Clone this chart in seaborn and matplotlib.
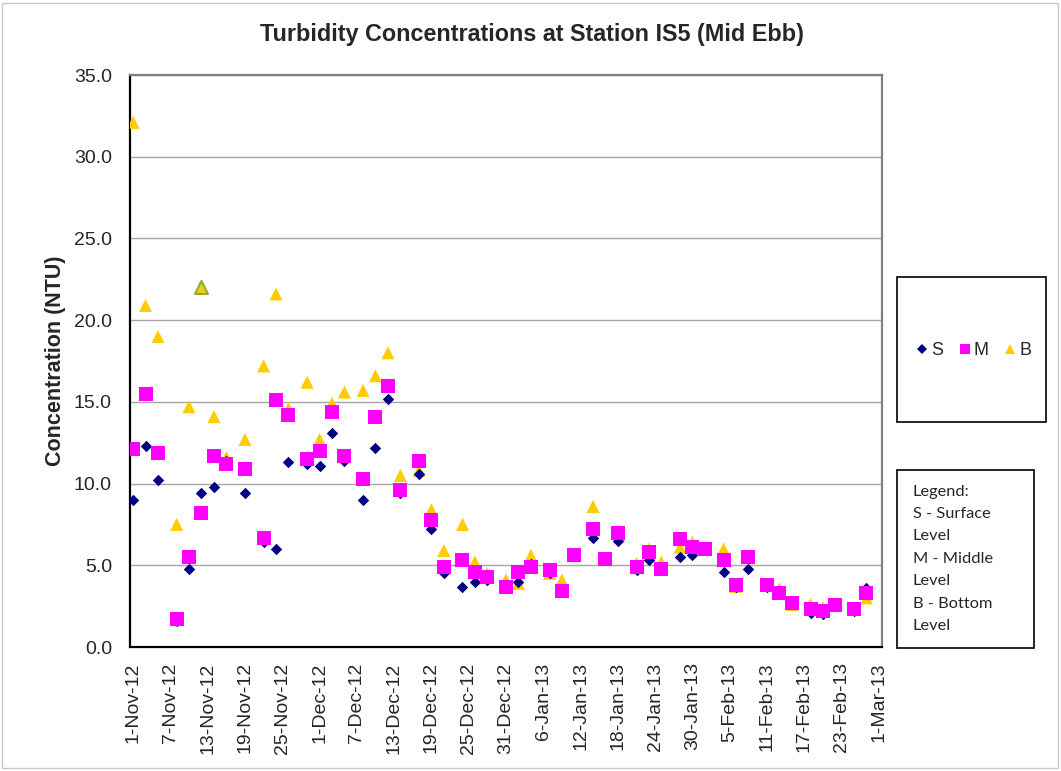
import matplotlib
matplotlib.use('agg')
import matplotlib.pyplot as plt
from matplotlib.patches import Rectangle
from matplotlib.lines import Line2D
import seaborn as sns
import pandas as pd
import numpy as np

# sampling dates
dates = ['2012-11-01', '2012-11-03', '2012-11-05', '2012-11-08', '2012-11-10',
         '2012-11-12', '2012-11-14', '2012-11-16', '2012-11-19', '2012-11-22',
         '2012-11-24', '2012-11-26', '2012-11-29', '2012-12-01', '2012-12-03',
         '2012-12-05', '2012-12-08', '2012-12-10', '2012-12-12', '2012-12-14',
         '2012-12-17', '2012-12-19', '2012-12-21', '2012-12-24', '2012-12-26',
         '2012-12-28', '2012-12-31', '2013-01-02', '2013-01-04', '2013-01-07',
         '2013-01-09', '2013-01-11', '2013-01-14', '2013-01-16', '2013-01-18',
         '2013-01-21', '2013-01-23', '2013-01-25', '2013-01-28', '2013-01-30',
         '2013-02-01', '2013-02-04', '2013-02-06', '2013-02-08', '2013-02-11',
         '2013-02-13', '2013-02-15', '2013-02-18', '2013-02-20', '2013-02-22',
         '2013-02-25', '2013-02-27']

surface = [9.0, 12.3, 10.2, 1.6, 4.8, 9.4, 9.8, 11.4, 9.4, 6.4,
           6.0, 11.3, 11.2, 11.1, 13.1, 11.4, 9.0, 12.2, 15.2, 9.4,
           10.6, 7.2, 4.5, 3.7, 4.0, 4.1, 3.6, 4.0, 5.1, 4.5,
           3.5, 5.6, 6.7, 5.3, 6.5, 4.7, 5.3, 4.7, 5.5, 5.6,
           6.1, 4.6, 3.7, 4.8, 3.7, 3.4, 2.8, 2.05, 2.0, 2.6,
           2.2, 3.6]
middle = [12.1, 15.5, 11.9, 1.7, 5.5, 8.2, 11.7, 11.2, 10.9, 6.7,
          15.1, 14.2, 11.5, 12.0, 14.4, 11.7, 10.3, 14.1, 16.0, 9.6,
          11.4, 7.8, 4.9, 5.3, 4.6, 4.3, 3.7, 4.6, 4.9, 4.7,
          3.4, 5.6, 7.2, 5.4, 7.0, 4.9, 5.8, 4.8, 6.6, 6.1,
          6.0, 5.3, 3.8, 5.5, 3.8, 3.3, 2.7, 2.3, 2.2, 2.6,
          2.3, 3.3]
bottom = [32.1, 20.9, 19.0, 7.5, 14.7, 22.0, 14.1, 11.6, 12.7, 17.2,
          21.6, 14.6, 16.2, 12.7, 14.9, 15.6, 15.7, 16.6, 18.0, 10.5,
          10.8, 8.4, 5.9, 7.5, 5.2, 4.5, 4.1, 3.9, 5.6, 4.5,
          4.1, 5.7, 8.6, 5.4, 7.1, 5.1, 6.0, 5.2, 6.1, 6.4,
          6.0, 6.0, 3.7, 5.6, 3.9, 3.55, 2.6, 2.6, 2.4, 2.6,
          2.4, 3.0]

tick_dates = pd.date_range('2012-11-01', '2013-03-01', freq='6D')
legend_lines = ['Legend:', 'S - Surface', 'Level', 'M - Middle', 'Level',
                'B - Bottom', 'Level']

sns.set_theme(style='white')
plt.rcParams['font.family'] = ['Liberation Sans', 'DejaVu Sans']

df = pd.DataFrame({'date': pd.to_datetime(dates), 'S': surface,
                   'M': middle, 'B': bottom})

fig = plt.figure(figsize=(10.61, 7.71), dpi=100)
ax = fig.add_axes([130 / 1061, 1 - 647 / 771, 752 / 1061, 572 / 771])

# B drawn first, then S, then M on top (as in the original)
b_edges = ['#FFCC00'] * len(df)
b_lw = [0.0] * len(df)
b_edges[5] = '#8FA94A'
b_lw[5] = 1.5
sns.scatterplot(data=df, x='date', y='B', marker='^', s=88, color='#FFCC00',
                edgecolor=b_edges, linewidth=b_lw, ax=ax, zorder=3)
sns.scatterplot(data=df, x='date', y='S', marker='D', s=34, color='#000080',
                linewidth=0, ax=ax, zorder=4)
sns.scatterplot(data=df, x='date', y='M', marker='s', s=88, color='#FF00FF',
                linewidth=0, ax=ax, zorder=5)

ax.set_xlim(pd.Timestamp('2012-10-31 12:00'), pd.Timestamp('2013-03-01 12:00'))
ax.set_ylim(0, 35)
ax.set_yticks(np.arange(0, 35.1, 5))
ax.set_yticklabels(['%.1f' % v for v in np.arange(0, 35.1, 5)], fontsize=14)
ax.set_xticks(tick_dates)
ax.set_xticklabels(['%d-%s' % (d.day, d.strftime('%b-%y')) for d in tick_dates],
                   rotation=90, fontsize=14)
ax.tick_params(axis='y', length=0, pad=13)
ax.tick_params(axis='x', length=0, pad=11)
ax.grid(axis='y', color='#a6a6a6', lw=1)
ax.set_axisbelow(True)

for side in ['left', 'bottom']:
    ax.spines[side].set_color('black')
    ax.spines[side].set_linewidth(1.6)
for side in ['top', 'right']:
    ax.spines[side].set_color('#808080')
    ax.spines[side].set_linewidth(1.6)

ax.set_xlabel('')
ax.set_ylabel('Concentration (NTU)', fontsize=15.5, fontweight='bold')
ax.yaxis.set_label_coords(-(130 - 66) / 752, 0.5)

fig.text(532 / 1061, 1 - 35 / 771, 'Turbidity Concentrations at Station IS5 (Mid Ebb)',
         ha='center', va='center', fontsize=16.8, fontweight='bold')

# legend box with markers
fig.patches.append(Rectangle((896.7 / 1061, 1 - 421.7 / 771), 149 / 1061, 144.7 / 771,
                             transform=fig.transFigure, fill=False,
                             edgecolor='black', lw=1.2))
handles = [Line2D([], [], ls='', marker='D', ms=4.6, color='#000080', mew=0),
           Line2D([], [], ls='', marker='s', ms=7.7, color='#FF00FF', mew=0),
           Line2D([], [], ls='', marker='^', ms=7.7, color='#FFCC00', mew=0)]
fig.legend(handles, ['S', 'M', 'B'], ncol=3, loc='center',
           bbox_to_anchor=(974 / 1061, 1 - 350.5 / 771), frameon=False,
           fontsize=13, handlelength=0.6, handletextpad=0.2, columnspacing=0.9)

# legend description box
fig.patches.append(Rectangle((896.7 / 1061, 1 - 647.7 / 771), 137.3 / 1061, 177.7 / 771,
                             transform=fig.transFigure, fill=False,
                             edgecolor='black', lw=1.2))
for i, line in enumerate(legend_lines):
    fig.text(913 / 1061, 1 - (491.7 + i * 22.4) / 771, line, ha='left',
             va='center', fontsize=11.8, family=['Lato', 'DejaVu Sans'])

# outer chart border
fig.patches.append(Rectangle((2 / 1061, 3 / 771), 1056 / 1061, 765 / 771,
                             transform=fig.transFigure, fill=False,
                             edgecolor='#c8c8c8', lw=1))

fig.savefig('out.png', dpi=100)
